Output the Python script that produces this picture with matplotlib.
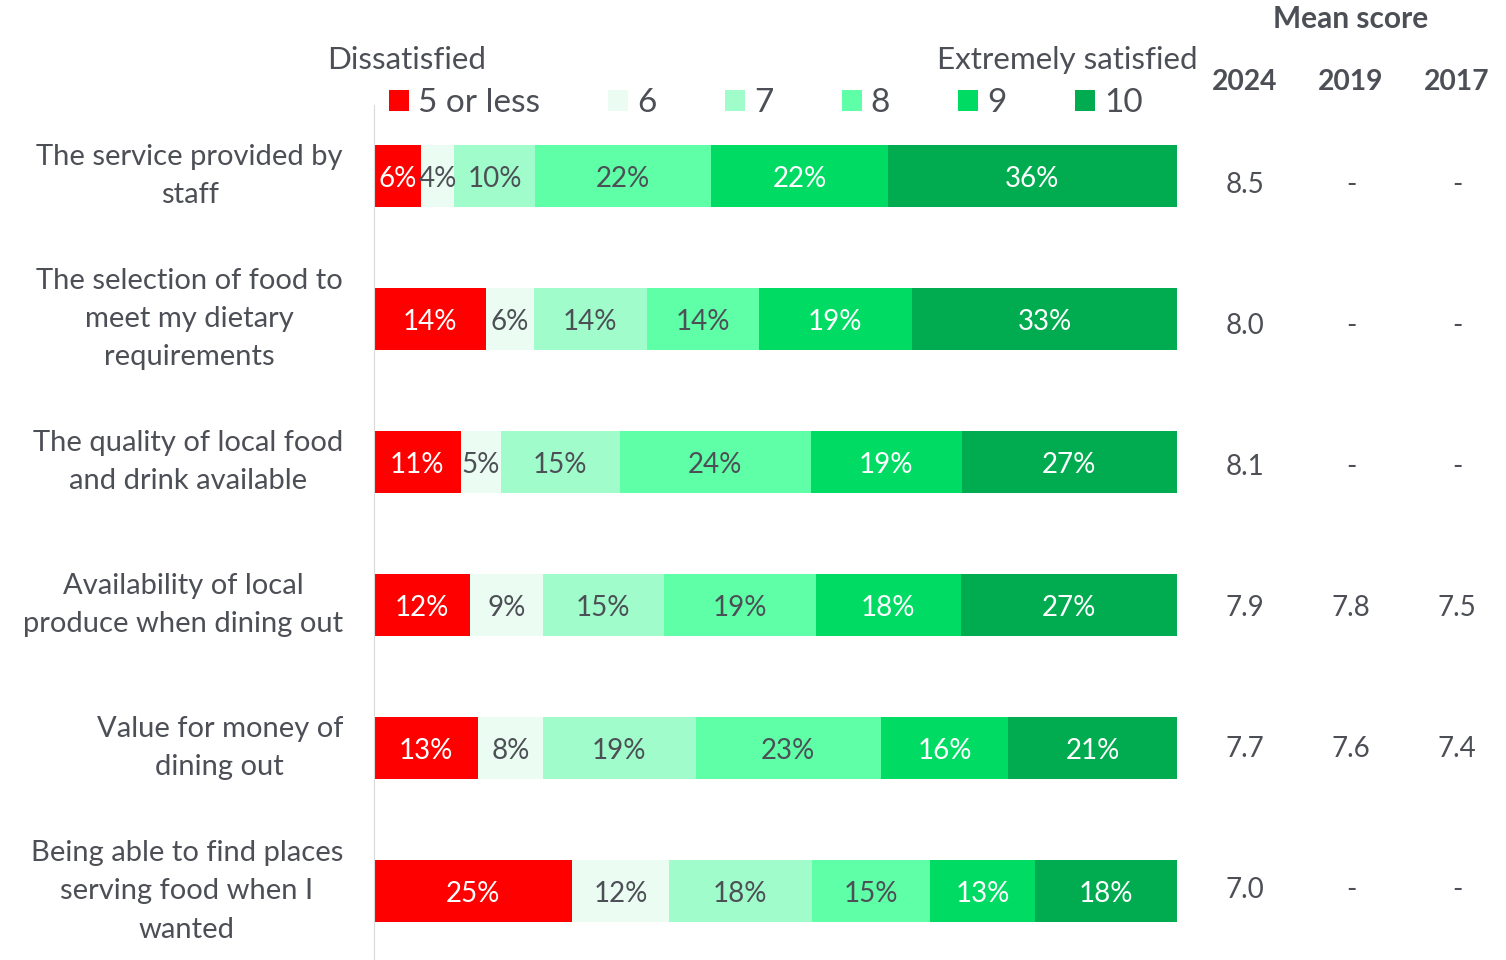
import matplotlib.pyplot as plt
import matplotlib.transforms as mtransforms
from matplotlib.patches import Rectangle

plt.rcParams['font.family'] = ['Lato', 'DejaVu Sans']

# Datos
categories = [
    "The service provided by\nstaff",
    "The selection of food to\nmeet my dietary\nrequirements",
    "The quality of local food\nand drink available",
    "Availability of local\nproduce when dining out",
    "Value for money of\ndining out",
    "Being able to find places\nserving food when I\nwanted",
]
levels = ["5 or less", "6", "7", "8", "9", "10"]
colors = ["#FF0000", "#EBFDF2", "#A0FCCB", "#5EFFA6", "#00DC63", "#00AC4F"]
text_colors = ["white", "#4D4F56", "#4D4F56", "#4D4F56", "white", "white"]

# porcentaje por nivel (una lista por nivel, una entrada por categoria)
p_5less = [5.9, 13.9, 10.8, 12.0, 13.0, 24.7]
p_6 = [4.1, 6.0, 5.0, 9.0, 8.0, 12.0]
p_7 = [10.0, 14.1, 14.8, 15.1, 19.1, 17.8]
p_8 = [22.0, 13.9, 23.8, 18.9, 23.0, 14.8]
p_9 = [22.0, 19.1, 18.8, 18.1, 15.9, 13.0]
p_10 = [36.0, 33.0, 26.8, 27.0, 21.0, 17.8]
series = [p_5less, p_6, p_7, p_8, p_9, p_10]

years = ["2024", "2019", "2017"]
mean_2024 = ["8.5", "8.0", "8.1", "7.9", "7.7", "7.0"]
mean_2019 = ["-", "-", "-", "7.8", "7.6", "-"]
mean_2017 = ["-", "-", "-", "7.5", "7.4", "-"]

gray = "#4D4F56"
W, H = 1506, 960

fig = plt.figure(figsize=(W / 100, H / 100), dpi=100)
ax = fig.add_axes([374 / W, 0, 803 / W, 1 - 105 / H])
ax.set_xlim(0, 100)
ax.set_ylim(5.48, -0.497)

ypos = list(range(len(categories)))
left = [0.0] * len(categories)
handles = []
for vals, col, tc, name in zip(series, colors, text_colors, levels):
    b = ax.barh(ypos, vals, left=left, height=0.434, color=col, label=name)
    handles.append(b)
    for i, v in enumerate(vals):
        ax.text(left[i] + v / 2, i + 0.02, f"{round(v)}%", ha="center",
                va="center", color=tc, fontsize=20)
    left = [l + v for l, v in zip(left, vals)]

for s in ["top", "right", "bottom"]:
    ax.spines[s].set_visible(False)
ax.spines["left"].set_color("#D9D9D9")
ax.set_xticks([])
ax.set_yticks([])

# etiquetas de categoria
tr = mtransforms.blended_transform_factory(fig.transFigure, ax.transData)
for i, c in enumerate(categories):
    ax.text(343 / W, i, c, transform=tr, ha="right", va="center",
            multialignment="center", fontsize=21, color=gray, linespacing=1.58)

# leyenda
ax.legend(handles, levels, ncol=6, loc="center left",
          bbox_to_anchor=(389 / W, 1 - 103 / H), bbox_transform=fig.transFigure,
          frameon=False, fontsize=24, handlelength=0.6, handleheight=0.6,
          handletextpad=0.27, columnspacing=2.05, borderpad=0, borderaxespad=0,
          labelcolor=gray)

fig.text(327 / W, 1 - 60 / H, "Dissatisfied", ha="left", va="center",
         fontsize=22.6, color=gray)
t = fig.text(937 / W, 1 - 60 / H, "Extremely satisfied", ha="left", va="center",
             fontsize=22.6, color=gray)
t.set_clip_path(Rectangle((0, 0), 1200 / W, 1, transform=fig.transFigure))

# puntaje medio
fig.text(1351 / W, 1 - 19 / H, "Mean score", ha="center", va="center",
         fontsize=21.5, fontweight="bold", color=gray)
col_x = [1245, 1351, 1457]
for x, yr, vals in zip(col_x, years, [mean_2024, mean_2019, mean_2017]):
    fig.text(x / W, 1 - 82 / H, yr, ha="center", va="center",
             fontsize=20.3, fontweight="bold", color=gray)
    for i, v in enumerate(vals):
        ax.text(x / W, i * 141 / 143 + 9 / 143, v, transform=tr, ha="center",
                va="center", fontsize=20, color=gray)

fig.savefig("out.png", dpi=100)
